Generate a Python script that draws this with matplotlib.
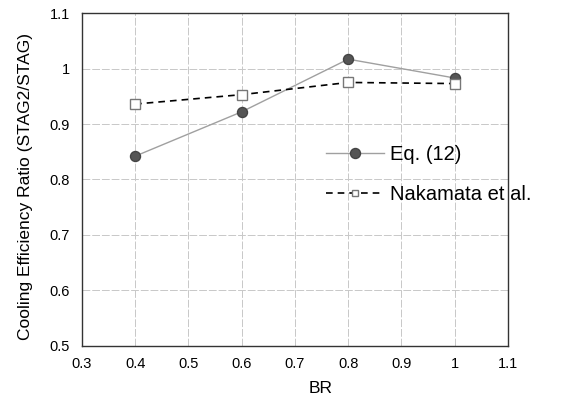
import matplotlib.pyplot as plt

plt.rcParams['font.family'] = ['Liberation Sans', 'DejaVu Sans']

# Razão de eficiência de resfriamento em função de BR
br = [0.4, 0.6, 0.8, 1.0]
eq12 = [0.842, 0.922, 1.017, 0.983]
nakamata = [0.936, 0.953, 0.975, 0.973]

fig = plt.figure(figsize=(5.76, 3.98), dpi=100)
ax = fig.add_axes([0.142, 0.131, 0.74, 0.836])

ax.plot(br, eq12, color='#a0a0a0', lw=1.0, marker='o', ms=7.2,
        mfc='#555555', mec='#444444', label='Eq. (12)', zorder=3)
ax.plot(br, nakamata, color='black', lw=1.2, ls=(0, (4, 3)), marker='s', ms=6.5,
        mfc='white', mec='#777777', mew=1.0, label='Nakamata et al.', zorder=3)

ax.set_xlim(0.3, 1.1)
ax.set_ylim(0.5, 1.1)
ax.set_xticks([0.3, 0.4, 0.5, 0.6, 0.7, 0.8, 0.9, 1.0, 1.1])
ax.set_xticklabels(['0.3', '0.4', '0.5', '0.6', '0.7', '0.8', '0.9', '1', '1.1'])
ax.set_yticks([0.5, 0.6, 0.7, 0.8, 0.9, 1.0, 1.1])
ax.set_yticklabels(['0.5', '0.6', '0.7', '0.8', '0.9', '1', '1.1'])
ax.tick_params(axis='x', labelsize=10.5, length=0, pad=8)
ax.tick_params(axis='y', labelsize=10.5, length=0, pad=8.5)
ax.grid(True, color='#c8c8c8', lw=0.7, ls=(0, (8, 2)))
for s in ax.spines.values():
    s.set_color('#333333')
    s.set_linewidth(1.0)

ax.set_xlabel('BR', fontsize=12.5, labelpad=7, x=0.561)
ax.set_ylabel('Cooling Efficiency Ratio (STAG2/STAG)', fontsize=12.5, labelpad=12, y=0.479)

# Legenda sem moldura, dentro da área do gráfico
leg = ax.legend(loc='center left', bbox_to_anchor=(0.573, 0.516), frameon=False,
                fontsize=14.5, handlelength=2.9, handletextpad=0.3,
                labelspacing=1.05, borderpad=0, borderaxespad=0)
leg.legend_handles[1].set_markersize(4.5)

plt.savefig('out.png')
